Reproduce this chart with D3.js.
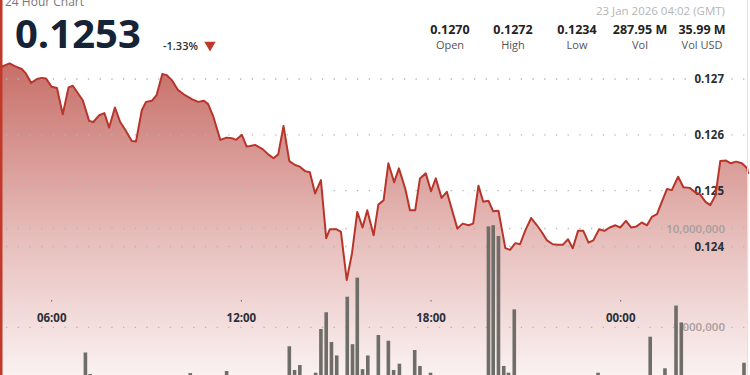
<!DOCTYPE html>
<html>
<head>
<meta charset="utf-8">
<script src="https://cdn.jsdelivr.net/npm/d3@7"></script>
<style>
body { margin: 0; background: #fff; font-family: "Open Sans", sans-serif; }
#chart { position: relative; width: 750px; height: 375px; overflow: hidden; }
</style>
</head>
<body>
<div id="chart"></div>
<script>
(function () {

// price, 10 minute steps, 22 -> 23 Jan 2026 (GMT)
var priceTimes = ["04:25","04:40","04:50","05:03","05:11","05:21","05:32","05:41","05:49","06:00",
  "06:10","06:21","06:32","06:40","06:59","07:11","07:19","07:30","07:40","07:49",
  "08:00","08:10","08:19","08:32","08:40","08:51","08:59","09:10","09:19","09:30",
  "09:38","09:48","10:00","10:13","10:26","10:38","10:49","10:57","11:07","11:20",
  "11:32","11:42","11:50","12:01","12:10","12:17","12:26","12:41","12:51","13:01",
  "13:10","13:20","13:31","13:42","13:51","14:01","14:10","14:20","14:31","14:41",
  "14:48","15:00","15:09","15:20","15:30","15:40","15:50","15:59","16:11","16:20",
  "16:30","16:39","16:50","16:59","17:11","17:20","17:30","17:39","17:50","18:00",
  "18:09","18:20","18:30","18:40","18:50","19:00","19:11","19:20","19:30","19:39",
  "19:49","19:58","20:08","20:21","20:30","20:40","20:49","20:59","21:10","21:21",
  "21:30","21:40","21:51","22:00","22:10","22:20","22:29","22:39","22:49","22:59",
  "23:08","23:19","23:29","23:39","23:50","23:59","00:10","00:20","00:30","00:40",
  "00:50","00:59","01:09","01:18","01:28","01:37","01:49","01:59","02:11","02:20",
  "02:31","02:41","02:50","03:00","03:09","03:20","03:29","03:39","03:50","04:00","04:02"];
var priceValues = [0.12722,0.12728,0.12723,0.12718,0.12710,0.12693,0.12700,0.12702,0.12701,0.12686,
  0.12684,0.12637,0.12685,0.12688,0.12662,0.12625,0.12623,0.12635,0.12639,0.12613,
  0.12649,0.12623,0.12610,0.12589,0.12588,0.12644,0.12659,0.12661,0.12671,0.12709,
  0.12707,0.12698,0.12680,0.12671,0.12664,0.12659,0.12661,0.12655,0.12632,0.12591,
  0.12595,0.12594,0.12591,0.12600,0.12579,0.12580,0.12582,0.12574,0.12565,0.12558,
  0.12565,0.12616,0.12553,0.12546,0.12543,0.12535,0.12533,0.12495,0.12519,0.12415,
  0.12431,0.12431,0.12426,0.12340,0.12388,0.12462,0.12434,0.12465,0.12420,0.12475,
  0.12483,0.12549,0.12515,0.12540,0.12504,0.12465,0.12465,0.12522,0.12531,0.12499,
  0.12522,0.12487,0.12498,0.12465,0.12432,0.12441,0.12438,0.12441,0.12509,0.12480,
  0.12482,0.12463,0.12464,0.12397,0.12394,0.12406,0.12404,0.12429,0.12451,0.12438,
  0.12426,0.12411,0.12404,0.12403,0.12403,0.12413,0.12397,0.12428,0.12428,0.12407,
  0.12411,0.12431,0.12428,0.12434,0.12438,0.12434,0.12446,0.12434,0.12436,0.12443,
  0.12438,0.12453,0.12458,0.12480,0.12503,0.12501,0.12525,0.12506,0.12505,0.12498,
  0.12493,0.12480,0.12474,0.12492,0.12553,0.12554,0.12549,0.12552,0.12549,0.12540,0.12530];

// volume bars (only the taller ones reach into view)
var volTimes = ["07:04","07:13","10:23","11:32","13:31","13:41","13:51","14:21","14:31","14:41",
  "14:51","15:01","15:21","15:31","15:40","15:50","16:00","16:20","16:39","16:49",
  "17:00","17:29","17:39","17:59","19:49","19:58","20:08","20:18","20:27","20:38",
  "23:17","00:56","01:24","01:45","01:55","03:54"];
var volValues = [556000,337000,344000,361000,643000,370000,415000,347000,961000,1420000,
  710000,519000,2040000,675000,3180000,377000,519000,836000,731000,370000,
  428000,589000,406000,347000,10500000,10800000,8400000,406000,347000,1520000,
  347000,803000,385000,1660000,1120000,438000];

var priceTicks = [0.124, 0.125, 0.126, 0.127];
var volTicks = [1000000, 10000000];
var timeTicks = ["06:00", "12:00", "18:00", "00:00"];

var statValues = ["0.1270", "0.1272", "0.1234", "287.95 M", "35.99 M"];
var statLabels = ["Open", "High", "Low", "Vol", "Vol USD"];

// turn HH:MM strings into dates, rolling over midnight
function toDates(list) {
  var day = 22, prev = -1;
  return list.map(function(s) {
    var p = s.split(":"), m = +p[0] * 60 + +p[1];
    if (m < prev) day++;
    prev = m;
    return new Date(Date.UTC(2026, 0, day, +p[0], +p[1]));
  });
}
function tickDate(s) {
  var p = s.split(":");
  var day = (+p[0] < 4) ? 23 : 22;
  return new Date(Date.UTC(2026, 0, day, +p[0], +p[1]));
}

var priceDates = toDates(priceTimes);
var volDates = toDates(volTimes);
var prices = priceDates.map(function(d, i) { return { t: d, v: priceValues[i] }; });
var vols = volDates.map(function(d, i) { return { t: d, v: volValues[i] }; });

var width = 750, height = 375;

var x = d3.scaleUtc()
  .domain([new Date(Date.UTC(2026, 0, 22, 6)), new Date(Date.UTC(2026, 0, 23, 0))])
  .range([51.7, 620.7]);
var y = d3.scaleLinear().domain([0.124, 0.127]).range([246.5, 79]);
var yVol = d3.scaleLog().domain([1e6, 1e7]).range([327.3, 228.5]);

var svg = d3.select("#chart").append("svg")
  .attr("width", width)
  .attr("height", height);

var defs = svg.append("defs");
var grad = defs.append("linearGradient")
  .attr("id", "fillGrad")
  .attr("gradientUnits", "userSpaceOnUse")
  .attr("x1", 0).attr("x2", 0).attr("y1", 60).attr("y2", height);
grad.append("stop").attr("offset", "0%").attr("stop-color", "#c76d67");
grad.append("stop").attr("offset", "55%").attr("stop-color", "#e6bcb9");
grad.append("stop").attr("offset", "100%").attr("stop-color", "#faf1f1");

// area + line
var area = d3.area()
  .x(function(d) { return x(d.t); })
  .y0(yVol(1e5))
  .y1(function(d) { return y(d.v); });
var line = d3.line()
  .x(function(d) { return x(d.t); })
  .y(function(d) { return y(d.v); });

svg.append("path")
  .datum(prices)
  .attr("d", area)
  .attr("fill", "url(#fillGrad)");

// dotted grid lines
var grid = svg.append("g").attr("class", "grid");
grid.selectAll(".gp").data(priceTicks).enter().append("line")
  .attr("x1", 6).attr("x2", 746)
  .attr("y1", function(d) { return y(d); })
  .attr("y2", function(d) { return y(d); });
grid.selectAll(".gv").data(volTicks).enter().append("line")
  .attr("x1", 6).attr("x2", 746)
  .attr("y1", function(d) { return yVol(d); })
  .attr("y2", function(d) { return yVol(d); });
grid.selectAll("line")
  .attr("stroke", "#b9b3b3")
  .attr("stroke-width", 1.3)
  .attr("stroke-dasharray", "1.3,10.4");

// volume labels
svg.append("g").selectAll("text").data(volTicks).enter().append("text")
  .attr("x", 725)
  .attr("y", function(d) { return yVol(d) + 4; })
  .attr("text-anchor", "end")
  .attr("font-size", 11.5)
  .attr("font-weight", 600)
  .attr("fill", "#a89d9d")
  .text(d3.format(","));

// price labels
svg.append("g").selectAll("text").data(priceTicks).enter().append("text")
  .attr("x", 724)
  .attr("y", function(d) { return y(d) + 4; })
  .attr("text-anchor", "end")
  .attr("font-size", 11.5)
  .attr("font-weight", 700)
  .attr("fill", "#2a2f38")
  .text(d3.format(".3f"));

// time axis: small tick dot + label
var tAxis = svg.append("g");
tAxis.selectAll("line").data(timeTicks).enter().append("line")
  .attr("x1", function(d) { return x(tickDate(d)); })
  .attr("x2", function(d) { return x(tickDate(d)); })
  .attr("y1", 300).attr("y2", 301.5)
  .attr("stroke", "#666").attr("stroke-width", 1);
tAxis.selectAll("text").data(timeTicks).enter().append("text")
  .attr("x", function(d) { return x(tickDate(d)); })
  .attr("y", 322)
  .attr("text-anchor", "middle")
  .attr("font-size", 11.5)
  .attr("font-weight", 700)
  .attr("fill", "#2a2f38")
  .text(function(d) { return d; });

svg.append("path")
  .datum(prices)
  .attr("d", line)
  .attr("fill", "none")
  .attr("stroke", "#b8352b")
  .attr("stroke-width", 2)
  .attr("stroke-linejoin", "round");

// volume bars
svg.append("g").selectAll("rect").data(vols).enter().append("rect")
  .attr("x", function(d) { return x(d.t) - 1.8; })
  .attr("width", 3.6)
  .attr("y", function(d) { return yVol(d.v); })
  .attr("height", function(d) { return yVol(1e5) - yVol(d.v); })
  .attr("fill", "#6f6d68");

// frame
svg.append("rect").attr("x", 0).attr("y", 0).attr("width", 2.5).attr("height", height).attr("fill", "#c0392b");
svg.append("line").attr("x1", 747.5).attr("x2", 747.5).attr("y1", 0).attr("y2", height)
  .attr("stroke", "#e2e2e2").attr("stroke-width", 1);

// header
svg.append("text").attr("x", 5).attr("y", 6)
  .attr("font-size", 12).attr("fill", "#777").text("24 Hour Chart");
svg.append("text").attr("x", 15).attr("y", 48)
  .attr("font-size", 40).attr("font-weight", 700).attr("fill", "#162235")
  .text("0.1253");
svg.append("text").attr("x", 163).attr("y", 50)
  .attr("font-size", 11).attr("font-weight", 600).attr("fill", "#2a2f38")
  .text("-1.33%");
svg.append("path")
  .attr("d", d3.symbol().type(d3.symbolTriangle).size(55))
  .attr("transform", "translate(210,45) rotate(180)")
  .attr("fill", "#c0392b");

svg.append("text").attr("x", 725).attr("y", 15)
  .attr("text-anchor", "end").attr("font-size", 11.5).attr("fill", "#b5b5b5")
  .text("23 Jan 2026 04:02 (GMT)");

var statX = [450, 513, 577, 640, 702];
var stats = svg.append("g").selectAll("g").data(statValues).enter().append("g")
  .attr("transform", function(d, i) { return "translate(" + statX[i] + ",0)"; });
stats.append("text").attr("y", 34).attr("text-anchor", "middle")
  .attr("font-size", 12.5).attr("font-weight", 700).attr("fill", "#222")
  .text(function(d) { return d; });
stats.append("text").attr("y", 49).attr("text-anchor", "middle")
  .attr("font-size", 11).attr("fill", "#555")
  .text(function(d, i) { return statLabels[i]; });

})();
</script>
</body>
</html>
